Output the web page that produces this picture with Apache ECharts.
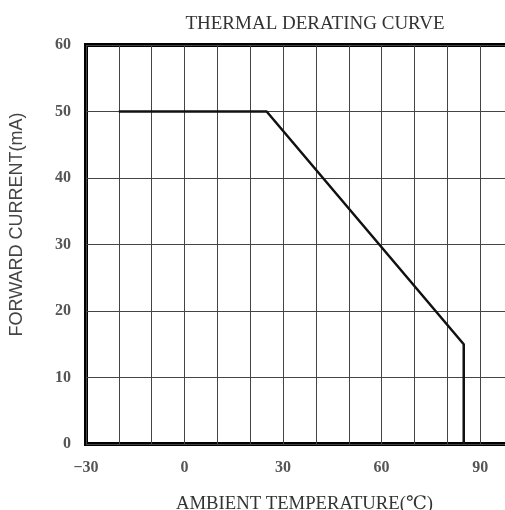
<!DOCTYPE html>
<html><head><meta charset="utf-8">
<script src="https://cdn.jsdelivr.net/npm/echarts@6/dist/echarts.min.js"></script>
<style>html,body{margin:0;padding:0;background:#fff}#c{width:505px;height:510px}</style>
</head><body><div id="c"></div>
<script>
var temps = [-20, 25, 85, 85];
var currents = [50, 50, 15, 0];
var xLabels = [-30, 0, 30, 60, 90];
var yLabels = [0, 10, 20, 30, 40, 50, 60];

var serif = '"Liberation Serif", "DejaVu Serif", serif';
var sans = '"Liberation Sans", Arial, sans-serif';
var chart = echarts.init(document.getElementById('c'), null, {renderer: 'canvas'});
chart.setOption({
  animation: false,
  backgroundColor: '#fff',
  title: {
    text: 'THERMAL DERATING CURVE', left: 310, top: 10, textAlign: 'center',
    textStyle: {fontFamily: serif, fontSize: 19, fontWeight: 'normal', color: '#333'}
  },
  grid: {left: 86, right: -8, top: 45, bottom: 66, show: true, borderColor: '#000', borderWidth: 4,
         outerBoundsMode: 'none', containLabel: false},
  xAxis: {
    type: 'value', min: -30, max: 100, interval: 10,
    name: 'AMBIENT TEMPERATURE(\u2103)', nameLocation: 'middle', nameGap: 51,
    nameTextStyle: {fontFamily: serif, fontSize: 18.7, color: '#333', padding: [0, 0, 0, 10]},
    axisLine: {show: false},
    axisTick: {show: false},
    splitLine: {show: true, lineStyle: {color: '#444', width: 1}},
    axisLabel: {
      fontFamily: serif, fontSize: 16, fontWeight: 'bold', color: '#555', margin: 16,
      formatter: function (v) { return xLabels.indexOf(v) >= 0 ? (v < 0 ? '\u2212' + Math.abs(v) : String(v)) : ''; }
    }
  },
  yAxis: {
    type: 'value', min: 0, max: 60, interval: 10,
    name: 'FORWARD CURRENT(mA)', nameLocation: 'middle', nameGap: 60,
    nameTextStyle: {fontFamily: sans, fontSize: 18, color: '#444', padding: [0, 0, 0, 40]},
    axisLine: {show: false},
    axisTick: {show: false},
    splitLine: {show: true, lineStyle: {color: '#444', width: 1}},
    axisLabel: {
      fontFamily: serif, fontSize: 16, fontWeight: 'bold', color: '#555', margin: 15,
      formatter: function (v) { return yLabels.indexOf(v) >= 0 ? String(v) : ''; }
    }
  },
  series: [{
    type: 'line', data: temps.map(function (t, i) { return [t, currents[i]]; }),
    showSymbol: false, symbol: 'none',
    lineStyle: {color: '#111', width: 2.5}
  }]
});
</script></body></html>
